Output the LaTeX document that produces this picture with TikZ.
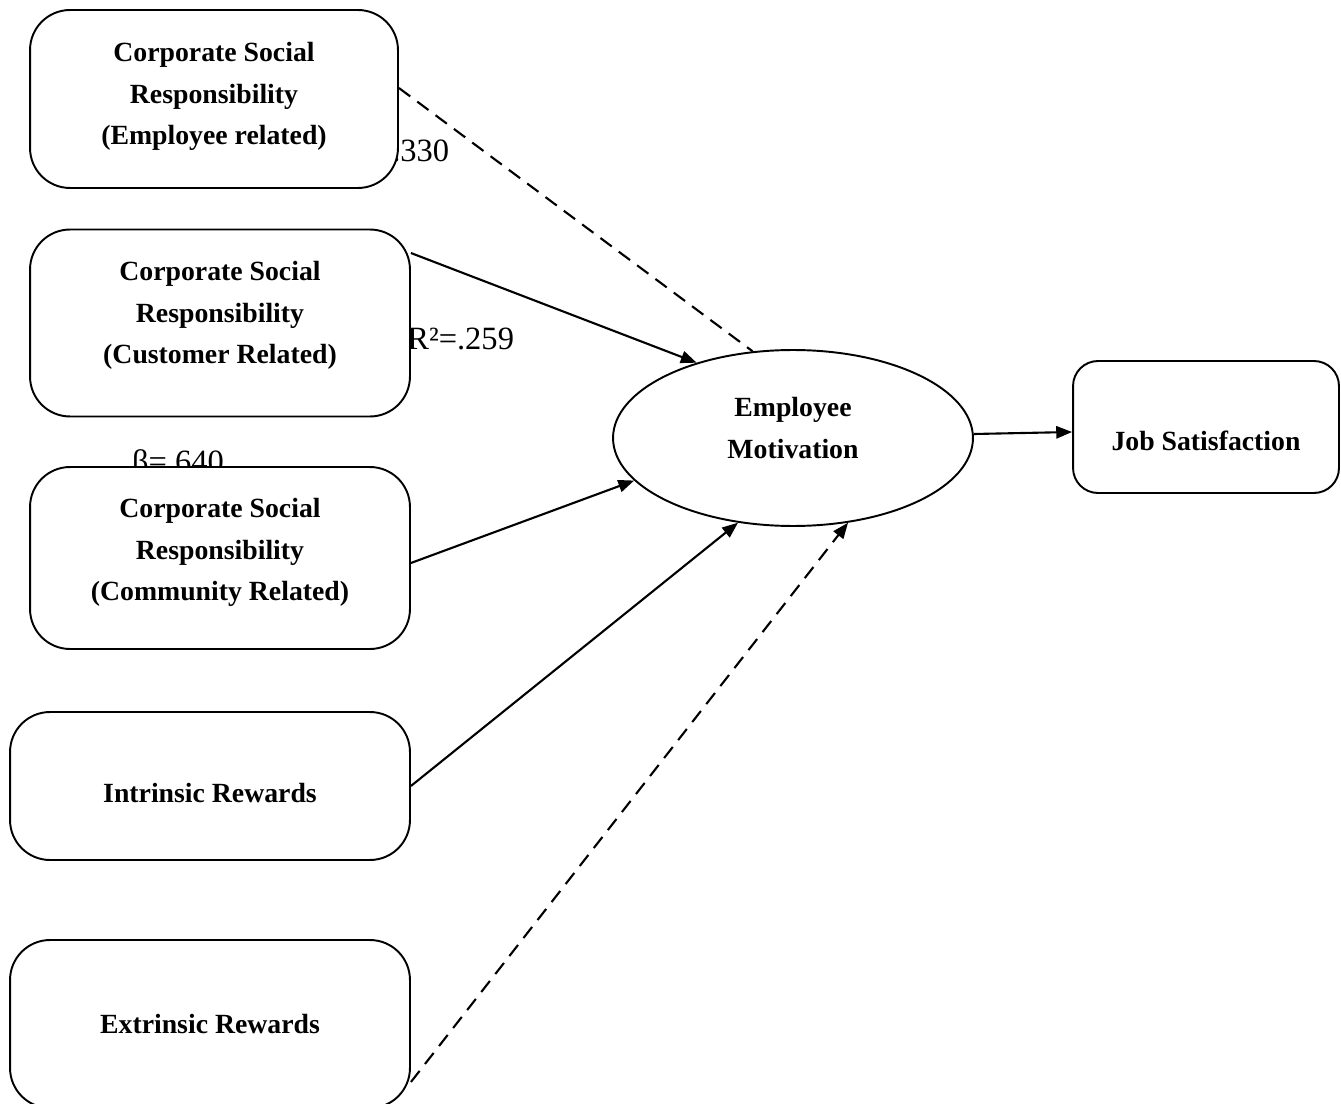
\documentclass[tikz,border=0pt]{standalone}
\usepackage{fontspec}
\setmainfont{Liberation Serif}
\usetikzlibrary{arrows.meta,shapes.geometric}

\tikzset{
  box/.style={draw, line width=1.1pt, rounded corners=0.8cm, fill=white, align=center,
    font=\bfseries\fontsize{15.8}{23.8}\selectfont},
  path/.style={line width=1.2pt, -{Triangle[length=9pt,width=7pt]}},
  dpath/.style={path, dash pattern=on 8pt off 5pt},
  coef/.style={font=\fontsize{18.5}{22}\selectfont, inner sep=0pt}
}

\begin{document}
\begin{tikzpicture}[x=0.02cm, y=-0.02cm]
    \useasboundingbox (0,0) rectangle (1341,1104);
    % coefficients (partly covered by the boxes)
    \node[coef, anchor=base west] (lblA) at (392,162) {.330};
    \node[coef, anchor=base west] (lblB) at (407,350) {R²=.259};
    \node[coef, anchor=base] (lblC) at (178,472) {β=.640};
    % predictors
    \node[box, minimum width=7.36cm, minimum height=3.56cm, text depth=0.22cm] (e1) at (214,99) {Corporate Social\\Responsibility\\(Employee related)};
    \node[box, minimum width=7.6cm, minimum height=3.74cm, text depth=0.42cm] (c2) at (220,323) {Corporate Social\\Responsibility\\(Customer Related)};
    \node[box, minimum width=7.6cm, minimum height=3.64cm, text depth=0.34cm] (c3) at (220,558) {Corporate Social\\Responsibility\\(Community Related)};
    \node[box, minimum width=8.0cm, minimum height=2.96cm, text height=0.66cm] (ir) at (210,786) {Intrinsic Rewards};
    \node[box, minimum width=8.0cm, minimum height=3.36cm] (ex) at (210,1024) {Extrinsic Rewards};
    % mediator and outcome
    \node[draw, ellipse, line width=1.1pt, fill=white, align=center, minimum width=7.2cm, minimum height=3.52cm,
      text depth=0.4cm, font=\bfseries\fontsize{15.8}{23.8}\selectfont] (em) at (793,438) {Employee\\Motivation};
    \node[box, minimum width=5.32cm, minimum height=2.64cm, rounded corners=0.5cm,
      text height=0.94cm, text depth=0pt] (jsat) at (1206,427) {Job Satisfaction};

    \draw[line width=1.2pt, dash pattern=on 8pt off 5pt] ([yshift=0.22cm]e1.east) -- (em.115);
    \draw[path] ([yshift=1.4cm]c2.east) -- (em.142);
    \draw[path] ([yshift=-0.1cm]c3.east) -- (em.195);
    \draw[path] (ir.east) -- (em.237);
    \draw[dpath] ([yshift=-1.16cm]ex.east) -- (em.303);
    \draw[path] ([yshift=0.08cm]em.east) -- ([yshift=-0.1cm]jsat.west);
\end{tikzpicture}
\end{document}
